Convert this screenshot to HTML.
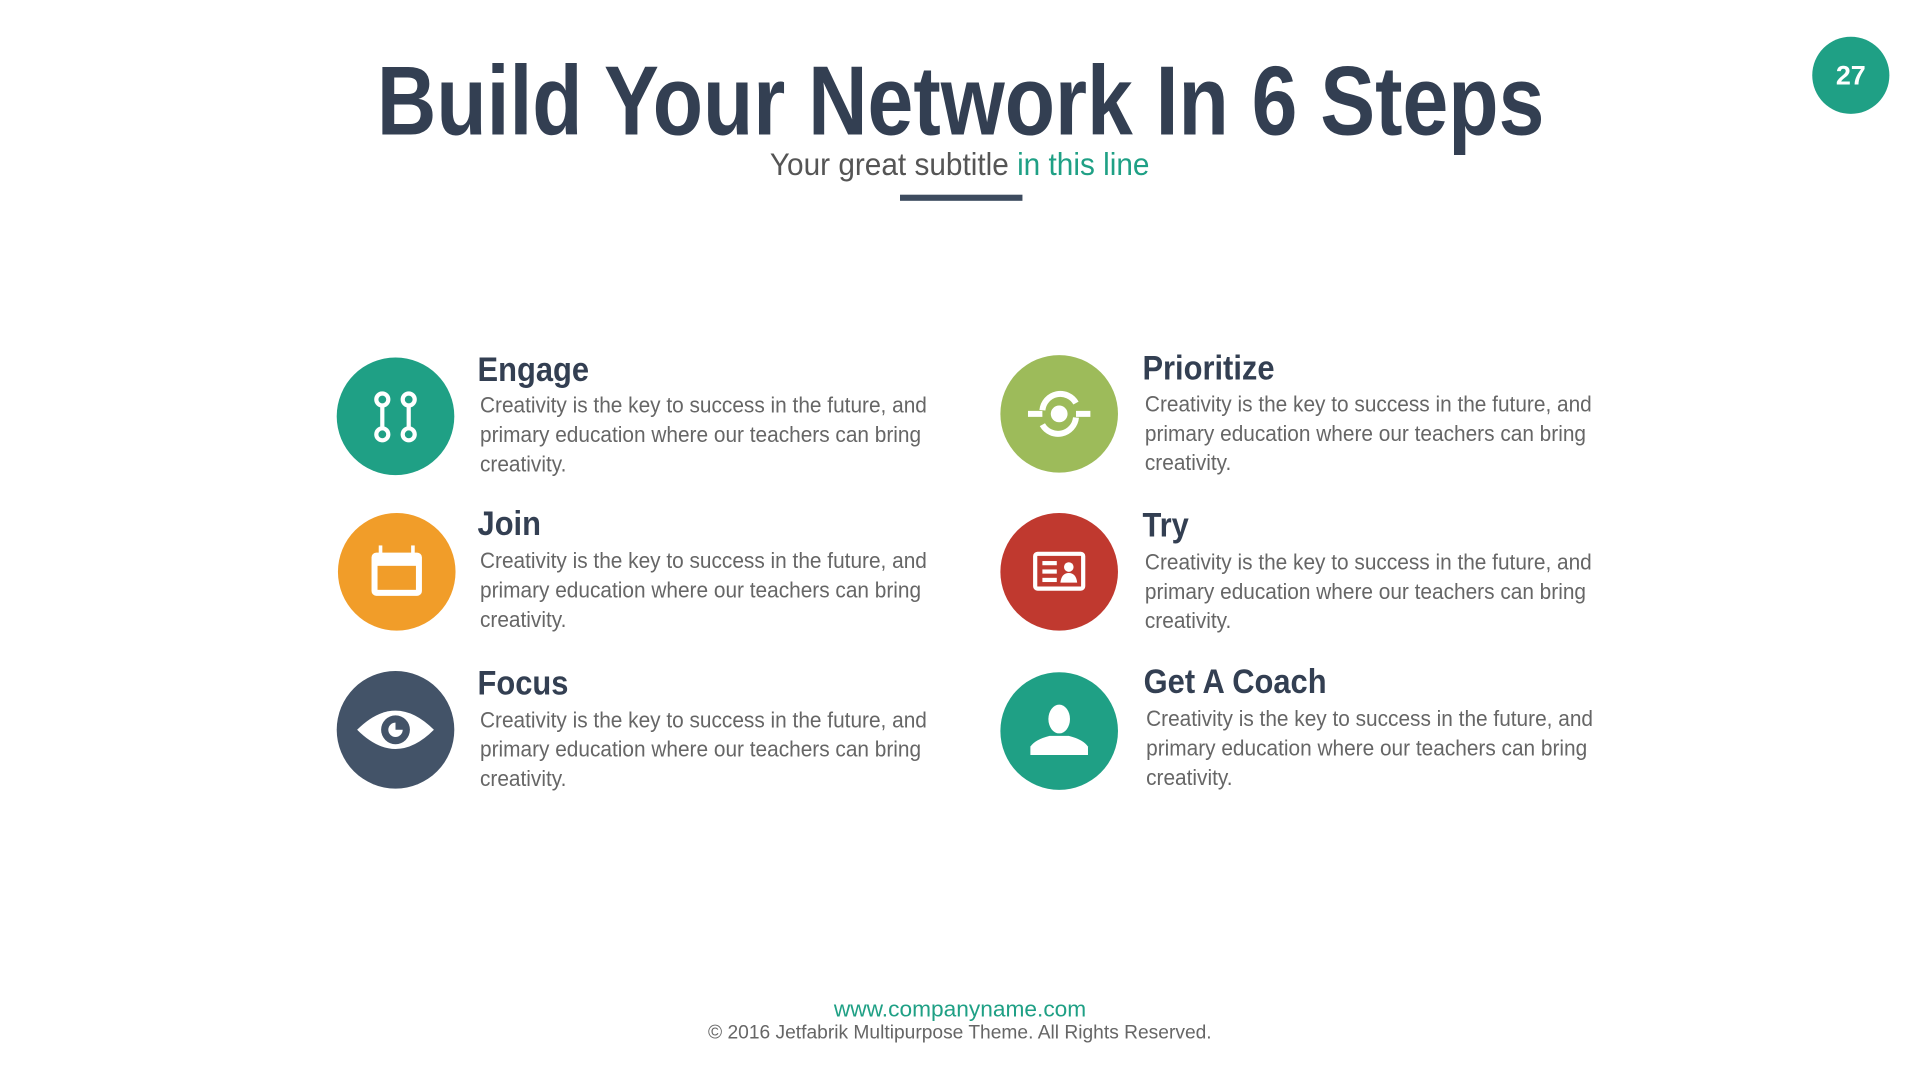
<!DOCTYPE html>
<html><head><meta charset="utf-8"><style>
html,body{margin:0;padding:0;background:#fff;width:1920px;height:1080px;overflow:hidden}
#f{position:absolute;left:0;top:0;width:1568px;height:882px;transform:scale(1.22449);transform-origin:0 0;font-family:"Liberation Sans",sans-serif}
.a{position:absolute;white-space:nowrap}
.t{left:0;width:1568px;text-align:center}
.c{position:absolute;width:98px;height:98px}
.h{position:absolute;font-weight:bold;font-size:28px;color:#333f52;line-height:32px;transform:scaleX(0.9);transform-origin:0 0;white-space:nowrap}
.b{position:absolute;font-size:18px;color:#666;line-height:24px;transform:scaleX(0.945);transform-origin:0 0;white-space:nowrap}
</style></head><body><div id="f">
<div class="a t" style="top:38px;font-size:80px;font-weight:bold;color:#333f52;line-height:90px"><span style="display:inline-block;transform:scaleX(0.84)">Build Your Network In 6 Steps</span></div>
<div class="a t" style="top:119px;font-size:26px;color:#555;line-height:30px"><span style="display:inline-block;transform:scaleX(0.935)">Your great subtitle <span style="color:#1fa085">in this line</span></span></div>
<div class="a" style="left:735px;top:159px;width:100px;height:5px;background:#3d4b5f"></div>
<div class="a" style="left:1480px;top:30px;width:63px;height:63px;border-radius:50%;background:#1fa085;color:#fff;font-weight:bold;font-size:22px;line-height:63px;text-align:center">27</div>

<svg class="c" style="left:274px;top:291px" viewBox="0 0 100 100"><circle cx="50" cy="50" r="49" fill="#1fa085"/><g stroke="#fff" stroke-width="3.5" fill="none"><circle cx="39" cy="36" r="5"/><circle cx="39" cy="65" r="5"/><circle cx="61" cy="36" r="5"/><circle cx="61" cy="65" r="5"/><line x1="39" y1="41" x2="39" y2="60"/><line x1="61" y1="41" x2="61" y2="60"/></g></svg>
<svg class="c" style="left:275px;top:418px" viewBox="0 0 100 100"><circle cx="50" cy="50" r="49" fill="#f19d29"/><rect x="29" y="34" width="42" height="36" rx="4" fill="#fff"/><rect x="34" y="45" width="32" height="20" fill="#f19d29"/><rect x="35" y="28" width="3" height="10" fill="#fff"/><rect x="62" y="28" width="3" height="10" fill="#fff"/></svg>
<svg class="c" style="left:274px;top:547px" viewBox="0 0 100 100"><circle cx="50" cy="50" r="49" fill="#435368"/><path d="M18 50 Q50 18 82 50 Q50 82 18 50Z" fill="#fff"/><circle cx="50" cy="50" r="12" fill="#435368"/><path d="M50 44 A6 6 0 1 0 56 50 L50 50Z" fill="#fff"/></svg>
<svg class="c" style="left:816px;top:289px" viewBox="0 0 100 100"><circle cx="50" cy="50" r="49" fill="#9dbb5a"/><circle cx="50" cy="50" r="7" fill="#fff"/><g stroke="#fff" stroke-width="5" fill="none"><path d="M36 47 A15 15 0 0 1 64 41"/><path d="M64 53 A15 15 0 0 1 36 59"/><path d="M24 50 H36"/><path d="M64 50 H76"/></g></svg>
<svg class="c" style="left:816px;top:418px" viewBox="0 0 100 100"><circle cx="50" cy="50" r="49" fill="#c0392f"/><rect x="30" y="35" width="40" height="29" rx="2" fill="none" stroke="#fff" stroke-width="3.5"/><g fill="#fff"><rect x="36" y="41" width="12" height="3.5"/><rect x="36" y="48" width="12" height="3.5"/><rect x="36" y="55" width="12" height="3.5"/><circle cx="58" cy="46" r="4"/><path d="M51 59 Q52 51 58 51 Q64 51 65 59Z"/></g></svg>
<svg class="c" style="left:816px;top:548px" viewBox="0 0 100 100"><circle cx="50" cy="50" r="49" fill="#1fa085"/><g fill="#fff"><ellipse cx="50" cy="40" rx="9" ry="12"/><path d="M26 70 L26 63 Q30 57 42 54 L58 54 Q70 57 74 63 L74 70Z"/></g></svg>

<div class="h" style="left:390px;top:286px">Engage</div>
<div class="b" style="left:392px;top:319px">Creativity is the key to success in the future, and<br>primary education where our teachers can bring<br>creativity.</div>
<div class="h" style="left:390px;top:412px">Join</div>
<div class="b" style="left:392px;top:446px">Creativity is the key to success in the future, and<br>primary education where our teachers can bring<br>creativity.</div>
<div class="h" style="left:390px;top:542px">Focus</div>
<div class="b" style="left:392px;top:576px">Creativity is the key to success in the future, and<br>primary education where our teachers can bring<br>creativity.</div>
<div class="h" style="left:933px;top:285px">Prioritize</div>
<div class="b" style="left:935px;top:318px">Creativity is the key to success in the future, and<br>primary education where our teachers can bring<br>creativity.</div>
<div class="h" style="left:933px;top:413px">Try</div>
<div class="b" style="left:935px;top:447px">Creativity is the key to success in the future, and<br>primary education where our teachers can bring<br>creativity.</div>
<div class="h" style="left:934px;top:541px">Get A Coach</div>
<div class="b" style="left:936px;top:575px">Creativity is the key to success in the future, and<br>primary education where our teachers can bring<br>creativity.</div>

<div class="a t" style="top:813px;font-size:18px;color:#1fa085;line-height:22px"><span style="display:inline-block;transform:scaleX(1.03)">www.companyname.com</span></div>
<div class="a t" style="top:834px;font-size:16px;color:#666;line-height:20px"><span style="display:inline-block;transform:scaleX(0.98)">© 2016 Jetfabrik Multipurpose Theme. All Rights Reserved.</span></div>
</div></body></html>
